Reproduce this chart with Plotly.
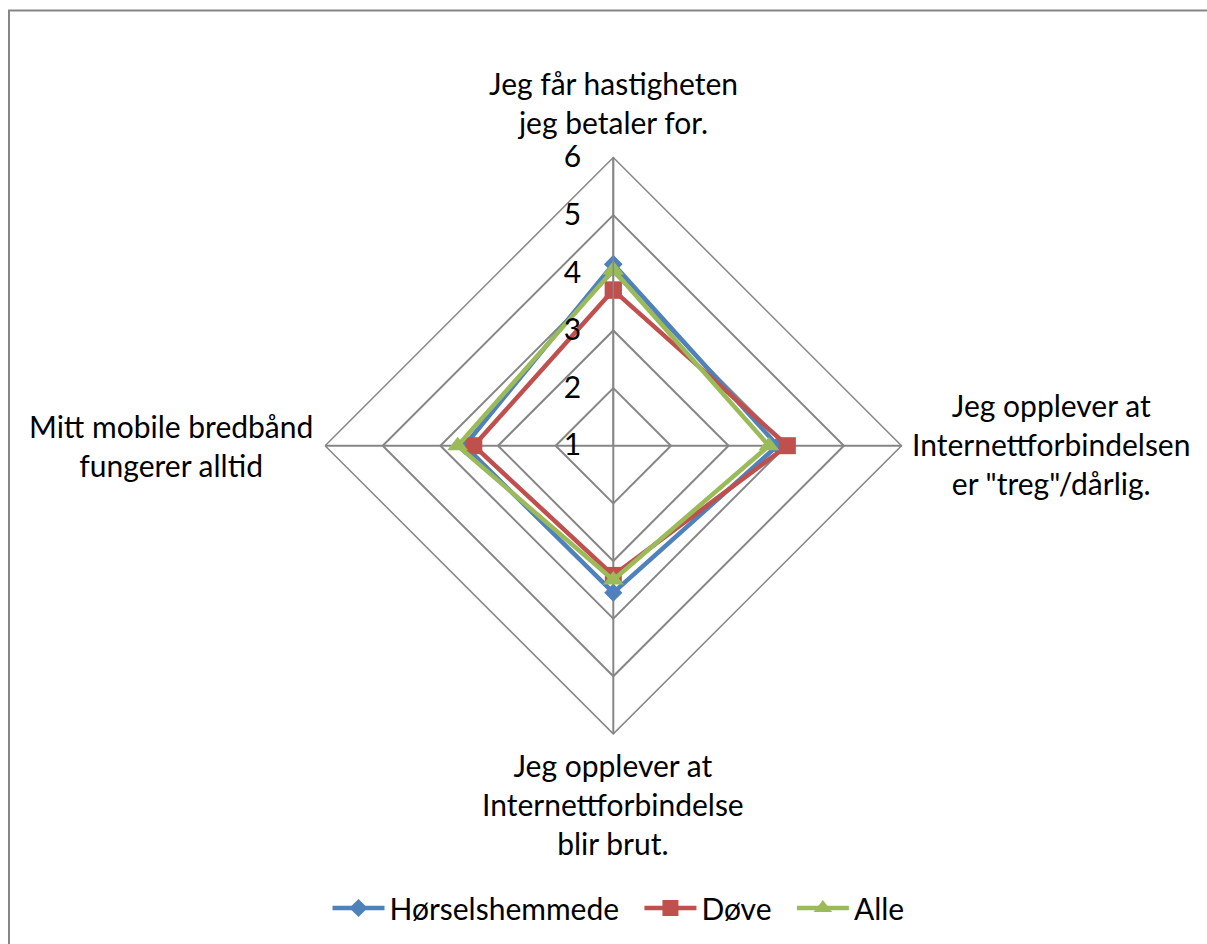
import plotly.graph_objects as go

categories = [
    "Jeg får hastigheten<br>jeg betaler for.",
    "Jeg opplever at<br>Internettforbindelsen<br>er \"treg\"/dårlig.",
    "Jeg opplever at<br>Internettforbindelse<br>blir brut.",
    "Mitt mobile bredbånd<br>fungerer alltid",
]
series_names = ["Hørselshemmede", "Døve", "Alle"]
hørsel = [4.15, 3.85, 3.55, 3.58]
døve = [3.70, 4.02, 3.25, 3.42]
alle = [4.05, 3.70, 3.33, 3.70]
radial_ticks = [1, 2, 3, 4, 5, 6]

W, H = 1207, 944
FONT = "Lato"
FS = 30
GRID = "#868686"
colors = ["#4F81BD", "#C0504D", "#9BBB59"]
symbols = ["diamond", "square", "triangle-up"]
sizes = [14, 17, 18]
name_pad = ["\u00a0\u00a0", "\u00a0\u00a0", ""]

# polar placement (pixels)
cx, cy, R = 613.3, 445.7, 288.2

fig = go.Figure()
for name, pad, vals, col, sym, sz in zip(series_names, name_pad, [hørsel, døve, alle], colors, symbols, sizes):
    fig.add_trace(go.Scatterpolar(
        r=vals + [vals[0]],
        theta=categories + [categories[0]],
        mode="lines+markers",
        name=name + pad,
        line=dict(color=col, width=4.5),
        marker=dict(symbol=sym, size=sz, color=col, line=dict(width=0)),
    ))

fig.update_layout(
    width=W, height=H,
    margin=dict(l=0, r=0, t=0, b=0),
    paper_bgcolor="white",
    font=dict(family=FONT, size=FS, color="black"),
    showlegend=True,
    legend=dict(
        orientation="h", x=618.5 / W, xanchor="center", y=36 / H, yanchor="middle",
        font=dict(family=FONT, size=FS, color="black"), itemwidth=52,
        bgcolor="rgba(0,0,0,0)",
    ),
    polar=dict(
        domain=dict(x=[(cx - R) / W, (cx + R) / W], y=[(H - cy - R) / H, (H - cy + R) / H]),
        gridshape="linear",
        bgcolor="white",
        angularaxis=dict(
            direction="clockwise", rotation=90, type="category",
            showticklabels=False, ticks="",
            showgrid=True, gridcolor=GRID, gridwidth=1.5,
            showline=True, linecolor=GRID, linewidth=1.5,
        ),
        radialaxis=dict(
            range=[1, 6], tickvals=radial_ticks, ticktext=[str(t) for t in radial_ticks],
            angle=90, side="counterclockwise", tickangle=90,
            ticks="outside", ticklen=21, tickcolor="rgba(0,0,0,0)",
            showline=True, linecolor=GRID, linewidth=1.5,
            showgrid=True, gridcolor=GRID, gridwidth=1.5,
            tickfont=dict(family=FONT, size=FS, color="black"),
        ),
    ),
)

# category labels placed around the polygon (offsets from polar centre in px)
label_offsets = [(0, -343), (438, -2), (0, 358), (-442, 0)]
for text, (dx, dy) in zip(categories, label_offsets):
    fig.add_annotation(
        x=(cx + dx) / W, y=1 - (cy + dy) / H, xref="paper", yref="paper",
        text=text, showarrow=False, xanchor="center", yanchor="middle", align="center",
        font=dict(family=FONT, size=FS, color="black"),
    )

# chart frame
fig.add_shape(type="rect", xref="paper", yref="paper",
              x0=9 / W, x1=1.05, y0=-0.05, y1=1 - 10.5 / H,
              line=dict(color=GRID, width=2), fillcolor="rgba(0,0,0,0)", layer="below")

fig.write_html("out.html", config={"displayModeBar": False},
               post_script="document.body.style.margin='0';")
